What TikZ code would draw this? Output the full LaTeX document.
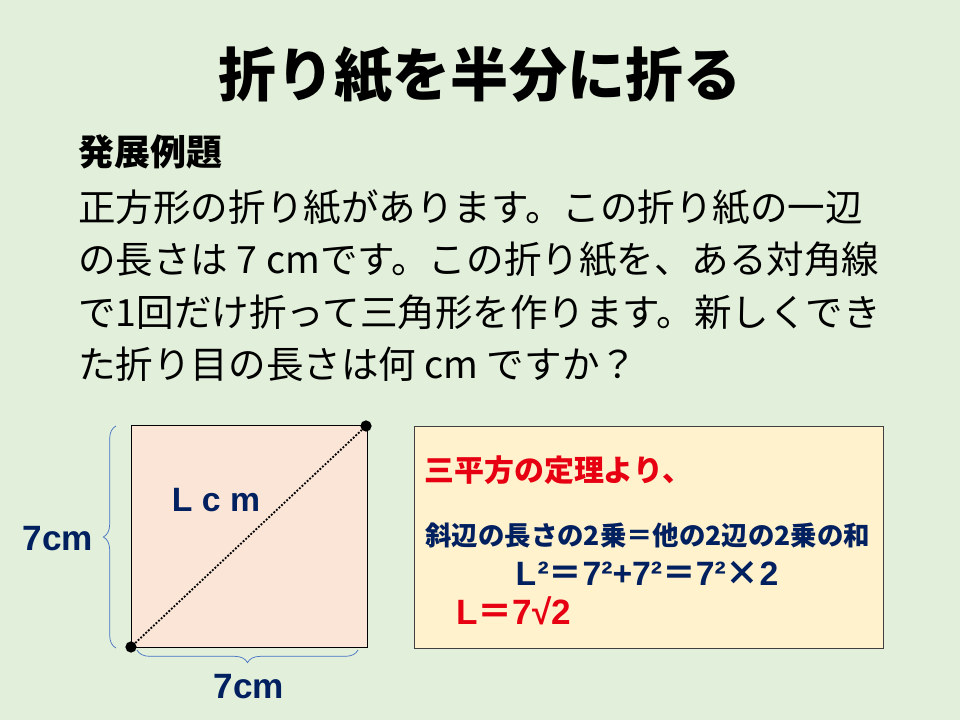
\documentclass[tikz,border=0pt]{standalone}
\usepackage{fontspec}
\setmainfont{Liberation Sans}
\newfontfamily\jp{Noto Sans CJK JP}
\usetikzlibrary{decorations.pathreplacing}

\definecolor{bgcol}{HTML}{E2EFDA}
\definecolor{papercol}{HTML}{FBE5D6}
\definecolor{notecol}{HTML}{FFF2CC}
\definecolor{navy}{HTML}{002060}
\definecolor{bracecol}{HTML}{4472C4}
\definecolor{redtxt}{HTML}{E60012}

\tikzset{
	body/.style={anchor=west, inner sep=0pt, font=\jp\fontsize{26.7}{30}\selectfont},
	len/.style={inner sep=0pt, text=navy, font=\bfseries\fontsize{25}{28}\selectfont},
	redtext/.style={anchor=west, inner sep=0pt, text=redtxt, font=\jp\bfseries\fontsize{21.3}{24}\selectfont},
	bracket/.style={draw=bracecol, line width=0.5pt, decorate, decoration={brace, amplitude=9pt}},
	dot/.style={circle, fill=black, inner sep=0pt, minimum size=8pt},
}

\begin{document}
\begin{tikzpicture}[x=0.025cm, y=-0.025cm]
		\fill [bgcol] (0, 0) rectangle (960, 720);
		\useasboundingbox (0, 0) rectangle (960, 720);

		\node [font=\jp\bfseries\fontsize{41.3}{44}\selectfont] (title) at (480, 75) {折り紙を半分に折る};
		\node [anchor=west, inner sep=0pt, font=\jp\bfseries\fontsize{25.6}{28}\selectfont] (head) at (78, 152) {発展例題};

		\foreach \t [count=\i] in {正方形の折り紙があります。この折り紙の一辺,
				の長さは 7 cmです。この折り紙を、ある対角線,
				で1回だけ折って三角形を作ります。新しくでき,
				た折り目の長さは何 cm ですか？} {
			\node [body] (line\i) at (78, {156 + 52*\i}) {\t};
		}

		% the folded paper
		\draw [fill=papercol, line width=0.6pt] (131, 425) rectangle (367, 647);
		\node [dot] (lo) at (131, 647) {};
		\node [dot] (hi) at (366, 426) {};
		\draw [dash pattern=on 1.3pt off 1.2pt, line width=1.3pt] (lo) -- (hi);

		\draw [bracket] (116, 648) -- (116, 426);
		\draw [bracket] (358, 650) -- (137, 650);
		\node [len] (side) at (58, 539) {7cm};
		\node [len] (base) at (249, 687) {7cm};
		\node [len, font=\bfseries\fontsize{24}{26}\selectfont] (diag) at (216, 500) {L c m};

		% the working
		\draw [fill=notecol, draw=black!75, line width=0.6pt] (414, 426) rectangle (883, 648);
		\node [redtext] (rule) at (424, 470) {三平方の定理より、};
		\node [anchor=west, inner sep=0pt, text=navy, font=\jp\bfseries\fontsize{18.8}{21}\selectfont] (words) at (425, 535) {斜辺の長さの2乗＝他の2辺の2乗の和};
		\node [inner sep=0pt, text=navy, font=\bfseries\fontsize{24}{26}\selectfont] (calc) at (647, 573) {L\kern1pt²{\jp ＝}7²+7²{\jp ＝}7²{\jp ×}2};
		\node [anchor=west, inner sep=0pt, text=redtxt, font=\bfseries\fontsize{25}{27}\selectfont] (answer) at (456, 611) {L{\jp ＝}7√\kern-0.5pt2};
	\end{tikzpicture}
\end{document}
